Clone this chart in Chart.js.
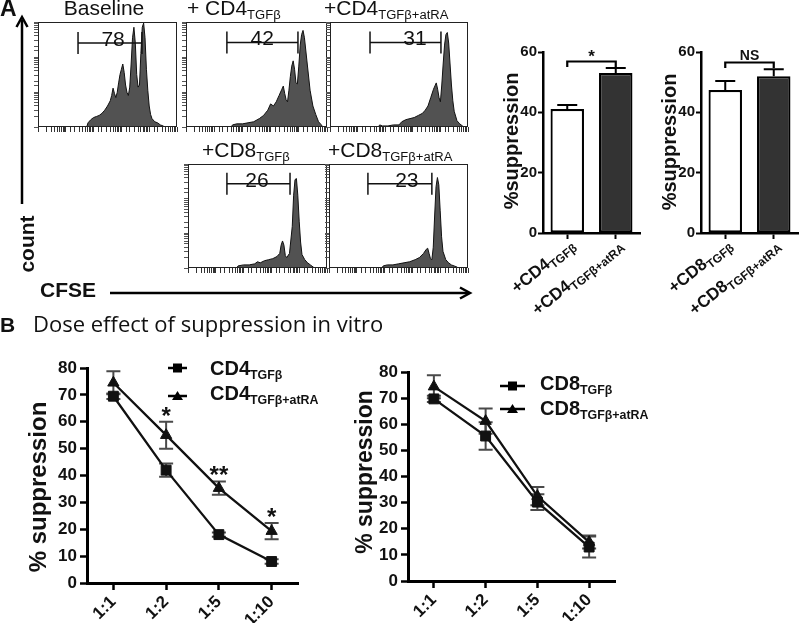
<!DOCTYPE html>
<html>
<head>
<meta charset="utf-8">
<script src="https://cdn.jsdelivr.net/npm/chart.js@4.4.1/dist/chart.umd.min.js"></script>
<style>
html, body { margin: 0; padding: 0; background: #fff; }
body { width: 800px; height: 626px; position: relative; overflow: hidden; font-family: "Liberation Sans", Arial, sans-serif; color: #111; }
canvas { position: absolute; }
.t { position: absolute; white-space: nowrap; line-height: 1; }
.b { font-weight: bold; }
.sb { font-size: 0.62em; position: relative; top: 0.3em; }
.rot { position: absolute; white-space: nowrap; line-height: 1; font-weight: bold; transform: translate(-50%, -50%) rotate(-90deg); }
.xl { position: absolute; width: 0; height: 0; }
.xl > span { position: absolute; left: 0; top: 0; white-space: nowrap; line-height: 1; font-weight: bold; font-size: 17px; transform-origin: 0 0; transform: rotate(-39deg) translate(-100%, -50%); }
.xl .sb { font-size: 12px; top: 0.3em; }
</style>
</head>
<body>

<canvas id="hBase"></canvas>
<canvas id="hCd4"></canvas>
<canvas id="hCd4Ra"></canvas>
<canvas id="hCd8"></canvas>
<canvas id="hCd8Ra"></canvas>
<canvas id="barCd4"></canvas>
<canvas id="barCd8"></canvas>
<canvas id="doseCd4"></canvas>
<canvas id="doseCd8"></canvas>

<svg width="800" height="626" style="position:absolute;left:0;top:0;pointer-events:none">
  <g stroke="#000" stroke-width="2.5" fill="none">
    <line x1="22" y1="204" x2="22" y2="20"/>
    <path d="M16.5 27 L22 17 L27.5 27"/>
    <line x1="110" y1="293" x2="468" y2="293"/>
    <path d="M460 287.5 L470 293 L460 298.5"/>
    <line x1="168" y1="368" x2="187" y2="368"/>
    <line x1="168" y1="396" x2="187" y2="396"/>
    <line x1="500" y1="386" x2="525" y2="386"/>
    <line x1="500" y1="409" x2="525" y2="409"/>
  </g>
  <rect x="173" y="363.5" width="9" height="9" fill="#000"/>
  <path d="M177.5 391 L172 400 L183 400 Z" fill="#000"/>
  <rect x="508" y="381.5" width="9" height="9" fill="#000"/>
  <path d="M512.5 404 L507 413 L518 413 Z" fill="#000"/>
</svg>

<div class="t b" style="left:0;top:-3px;font-size:23px">A</div>
<div class="t" style="left:104px;top:-3px;font-size:21px;transform:translateX(-50%)">Baseline</div>
<div class="t" style="left:187px;top:-3px;font-size:21px">+ CD4<span class="sb">TGFβ</span></div>
<div class="t" style="left:324px;top:-3px;font-size:21px">+CD4<span class="sb">TGFβ+atRA</span></div>
<div class="t" style="left:202px;top:139px;font-size:21px">+CD8<span class="sb">TGFβ</span></div>
<div class="t" style="left:328px;top:139px;font-size:21px">+CD8<span class="sb">TGFβ+atRA</span></div>
<div class="rot" style="left:26px;top:244px;font-size:21px">count</div>
<div class="t b" style="left:40px;top:279px;font-size:21px">CFSE</div>

<div class="rot" style="left:511px;top:141px;font-size:20px">%suppression</div>
<div class="rot" style="left:669px;top:142px;font-size:20px">%suppression</div>
<div class="xl" style="left:572px;top:242px"><span>+CD4<span class="sb">TGFβ</span></span></div>
<div class="xl" style="left:620px;top:242px"><span>+CD4<span class="sb">TGFβ+atRA</span></span></div>
<div class="xl" style="left:729px;top:242px"><span>+CD8<span class="sb">TGFβ</span></span></div>
<div class="xl" style="left:777px;top:242px"><span>+CD8<span class="sb">TGFβ+atRA</span></span></div>

<div class="t b" style="left:0;top:314px;font-size:21px">B</div>
<div class="t" style="left:33px;top:312px;font-size:22px;font-family:'Open Sans',sans-serif">Dose effect of suppression in vitro</div>
<div class="rot" style="left:38px;top:487px;font-size:24px">% suppression</div>
<div class="rot" style="left:364px;top:472px;font-size:23px">% suppression</div>
<div class="t b" style="left:210px;top:358px;font-size:20px">CD4<span class="sb">TGFβ</span></div>
<div class="t b" style="left:210px;top:383px;font-size:20px">CD4<span class="sb">TGFβ+atRA</span></div>
<div class="t b" style="left:540px;top:373px;font-size:20px">CD8<span class="sb">TGFβ</span></div>
<div class="t b" style="left:540px;top:398px;font-size:20px">CD8<span class="sb">TGFβ+atRA</span></div>

<script>
// ---- data ----
// CFSE histograms: [channel position 0-100, relative count 0-100]
const baselineHist = [[35,0],[36,4],[38,7],[40,9],[42,10],[44,11],[46,13],[48,16],[50,20],[52,25],[53,30],[54,37],[55,32],[56,28],[57,33],[58,42],[59,50],[60,55],[61,60],[62,52],[63,40],[64,33],[65,30],[66,38],[67,60],[68,85],[69,95],[70,80],[71,50],[72,38],[73,40],[74,70],[75,95],[76,99],[77,85],[78,55],[79,35],[80,20],[81,12],[82,8],[84,5],[86,4],[88,2],[90,1],[91,0]];
const cd4TgfHist = [[32,0],[33,2],[36,3],[40,3],[44,4],[48,5],[52,8],[55,11],[58,16],[60,22],[62,20],[64,24],[66,30],[68,36],[69,39],[70,32],[71,26],[72,24],[73,35],[74,48],[75,58],[76,63],[77,55],[78,42],[79,41],[80,58],[81,78],[82,88],[83,92],[84,85],[86,60],[88,35],[90,20],[92,12],[94,5],[96,2],[97,0]];
const cd4RaHist = [[35,0],[36,2],[38,1],[42,1],[46,2],[50,2],[52,5],[55,7],[58,8],[61,9],[64,11],[67,13],[69,16],[71,20],[73,28],[75,36],[77,42],[78,36],[79,28],[80,24],[81,40],[82,60],[83,78],[84,88],[85,90],[86,80],[87,60],[88,40],[89,25],[90,15],[92,6],[94,3],[96,1],[97,0]];
const cd8TgfHist = [[35,0],[36,2],[40,3],[44,3],[48,4],[50,6],[52,5],[55,7],[58,8],[61,9],[64,11],[66,14],[67,22],[68,26],[69,22],[70,12],[71,10],[73,14],[75,40],[76,70],[77,85],[78,86],[79,70],[80,45],[81,25],[82,13],[84,8],[86,5],[88,3],[90,1],[91,0]];
const cd8RaHist = [[38,0],[39,2],[42,3],[46,3],[50,4],[54,5],[58,6],[62,8],[65,10],[68,14],[70,18],[71,19],[72,14],[73,9],[74,8],[75,20],[76,50],[77,78],[78,87],[79,80],[80,55],[81,30],[82,16],[84,8],[86,5],[88,3],[90,2],[92,1],[93,0]];
const gateLo = [28.8, 29, 29, 28, 28];
const gateHi = [74.8, 79.4, 80.4, 73.4, 74];
const gateLevel = [80, 80.5, 80.5, 81, 81];
const gatePct = [78, 42, 31, 26, 23];
const gateLabelX = [54, 54, 61.6, 49.6, 56];

// bar charts (% suppression)
const barCd4Labels = ['+CD4 TGFβ', '+CD4 TGFβ+atRA'];
const barCd4Vals = [41.1, 53];
const barCd4Err = [1.3, 1.7];
const barCd8Labels = ['+CD8 TGFβ', '+CD8 TGFβ+atRA'];
const barCd8Vals = [47.4, 52];
const barCd8Err = [3, 2.3];
const barSig = ['*', 'NS'];
const barSigLevel = [57, 56.7];

// dose response
const ratios = ['1:1', '1:2', '1:5', '1:10'];
const cd4Tgf = [69.5, 42, 18, 8];
const cd4TgfErr = [1, 2.5, 0.8, 0.8];
const cd4Ra = [74.5, 55, 35.3, 19.3];
const cd4RaErr = [4.3, 5, 2.5, 3];
const cd4Stars = ['', '*', '**', '*'];
const cd8Tgf = [69.7, 55.5, 30.2, 13];
const cd8TgfErr = [1.2, 5.3, 3, 4];
const cd8Ra = [74.4, 61.2, 32.5, 14.9];
const cd8RaErr = [4.4, 4.8, 3.5, 2.5];

Chart.defaults.font.family = '"Liberation Sans", Arial, sans-serif';
Chart.defaults.color = '#111';

// place a canvas so that its chart area lands on the given box
function place(id, area, m) {
    const c = document.getElementById(id);
    const w = area.R - area.L + m.l + m.r;
    const h = area.B - area.T + m.t + m.b;
    c.width = w; c.height = h;
    c.style.left = (area.L - m.l) + 'px';
    c.style.top = (area.T - m.t) + 'px';
    c.style.width = w + 'px';
    c.style.height = h + 'px';
    return c;
}
const fixW = w => s => { s.width = w; s.paddingTop = 0; s.paddingBottom = 0; };
const fixH = h => s => { s.height = h; s.paddingLeft = 0; s.paddingRight = 0; };

// plugins
const flowBox = {
    id: 'flowBox',
    beforeDatasetsDraw(chart, args, o) {
        const ctx = chart.ctx;
        ctx.save();
        ctx.font = '21px "Liberation Sans", Arial';
        ctx.fillStyle = '#111';
        ctx.textAlign = 'center';
        ctx.fillText(String(o.pct), chart.scales.x.getPixelForValue(o.labelX), chart.scales.y.getPixelForValue(o.level) + 3);
        ctx.restore();
    },
    afterDraw(chart) {
        const { ctx, chartArea: a } = chart;
        ctx.save();
        ctx.strokeStyle = '#222';
        ctx.lineWidth = 1;
        ctx.strokeRect(a.left + 0.5, a.top + 0.5, a.right - a.left - 1, a.bottom - a.top - 1);
        ctx.restore();
    }
};

function drawErr(chart, o) {
    const ctx = chart.ctx, ys = chart.scales.y;
    ctx.save();
    ctx.strokeStyle = o.color;
    ctx.lineWidth = o.width;
    chart.data.datasets.forEach((ds, i) => {
        if (!ds.err) return;
        chart.getDatasetMeta(i).data.forEach((el, j) => {
            const top = ys.getPixelForValue(ds.data[j] + ds.err[j]);
            const bot = o.upOnly ? el.y : ys.getPixelForValue(ds.data[j] - ds.err[j]);
            ctx.beginPath();
            ctx.moveTo(el.x, bot); ctx.lineTo(el.x, top);
            ctx.moveTo(el.x - o.cap, top); ctx.lineTo(el.x + o.cap, top);
            if (!o.upOnly) { ctx.moveTo(el.x - o.cap, bot); ctx.lineTo(el.x + o.cap, bot); }
            ctx.stroke();
        });
    });
    ctx.restore();
}
const errBars = {
    id: 'errBars',
    beforeDatasetsDraw(chart, args, o) { if (!o.after) drawErr(chart, o); },
    afterDatasetsDraw(chart, args, o) { if (o.after) drawErr(chart, o); }
};

const sigBracket = {
    id: 'sigBracket',
    afterDatasetsDraw(chart, args, o) {
        const ctx = chart.ctx;
        const m = chart.getDatasetMeta(0).data;
        const y = Math.round(chart.scales.y.getPixelForValue(o.level)) + 0.5;
        ctx.save();
        ctx.strokeStyle = '#000';
        ctx.lineWidth = 2.2;
        ctx.beginPath();
        ctx.moveTo(m[0].x, y + 5.5); ctx.lineTo(m[0].x, y);
        ctx.lineTo(m[1].x, y); ctx.lineTo(m[1].x, y + 5.5);
        ctx.stroke();
        ctx.font = 'bold ' + o.size + 'px "Liberation Sans", Arial';
        ctx.fillStyle = '#111';
        ctx.textAlign = 'center';
        ctx.fillText(o.text, (m[0].x + m[1].x) / 2, y + o.dy);
        ctx.restore();
    }
};

const starMarks = {
    id: 'starMarks',
    afterDatasetsDraw(chart, args, o) {
        if (!o.labels) return;
        const ctx = chart.ctx, ds = chart.data.datasets[o.dataset];
        const pts = chart.getDatasetMeta(o.dataset).data;
        ctx.save();
        ctx.font = 'bold 24px "Liberation Sans", Arial';
        ctx.fillStyle = '#111';
        ctx.textAlign = 'center';
        o.labels.forEach((s, j) => {
            if (!s) return;
            ctx.fillText(s, pts[j].x, chart.scales.y.getPixelForValue(ds.data[j] + ds.err[j]) + 2);
        });
        ctx.restore();
    }
};

// CFSE histograms
function flowHist(id, area, hist, k) {
    const c = place(id, area, { l: 7, t: 1, r: 1, b: 7 });
    return new Chart(c, {
        type: 'line',
        data: {
            datasets: [
                {
                    data: [{ x: gateLo[k], y: gateLevel[k] }, { x: gateHi[k], y: gateLevel[k] }],
                    borderColor: '#111', borderWidth: 1.3, fill: false,
                    pointStyle: 'line', rotation: 90, pointRadius: 11,
                    pointBorderColor: '#111', pointBorderWidth: 1.5
                },
                {
                    data: hist.map(([x, y]) => ({ x, y })),
                    borderColor: '#111', borderWidth: 1, backgroundColor: '#525252',
                    fill: 'origin', pointRadius: 0, tension: 0
                }
            ]
        },
        options: {
            responsive: false, animation: false,
            layout: { autoPadding: false, padding: { left: 1, top: 1, right: 1, bottom: 1 } },
            plugins: {
                legend: { display: false }, tooltip: { enabled: false },
                flowBox: { pct: gatePct[k], labelX: gateLabelX[k], level: gateLevel[k] }
            },
            scales: {
                x: { type: 'linear', min: 0, max: 100, display: false },
                y: { type: 'linear', min: 0, max: 100, display: false },
                xt: {
                    type: 'logarithmic', position: 'bottom', min: 1, max: 100000,
                    ticks: { display: false },
                    grid: { drawOnChartArea: false, tickLength: 5, tickColor: '#333' },
                    border: { display: false }, afterFit: fixH(6)
                },
                yt: {
                    type: 'logarithmic', position: 'left', min: 1, max: 1000,
                    ticks: { display: false },
                    grid: { drawOnChartArea: false, tickLength: 4, tickColor: '#555' },
                    border: { display: false }, afterFit: fixW(6)
                }
            }
        },
        plugins: [flowBox]
    });
}

flowHist('hBase', { L: 38, T: 22, R: 177, B: 127 }, baselineHist, 0);
flowHist('hCd4', { L: 186, T: 22, R: 327, B: 127 }, cd4TgfHist, 1);
flowHist('hCd4Ra', { L: 330, T: 22, R: 468, B: 127 }, cd4RaHist, 2);
flowHist('hCd8', { L: 188, T: 164, R: 327, B: 268 }, cd8TgfHist, 3);
flowHist('hCd8Ra', { L: 329, T: 164, R: 468, B: 268 }, cd8RaHist, 4);

// bar charts
function barChart(id, area, labels, vals, errs, k) {
    const c = place(id, area, { l: 38, t: 16, r: 2, b: 10 });
    return new Chart(c, {
        type: 'bar',
        data: {
            labels: labels,
            datasets: [{
                data: vals, err: errs,
                backgroundColor: ['#ffffff', '#333333'],
                borderColor: '#000', borderWidth: 2.2, borderSkipped: false,
                barPercentage: 0.69, categoryPercentage: 1
            }]
        },
        options: {
            responsive: false, animation: false,
            layout: { autoPadding: false, padding: { left: 2, top: 16, right: 2, bottom: 2 } },
            plugins: {
                legend: { display: false }, tooltip: { enabled: false },
                errBars: { after: true, upOnly: true, color: '#000', width: 2, cap: 10 },
                sigBracket: { level: barSigLevel[k], text: barSig[k], size: k === 0 ? 17 : 14, dy: k === 0 ? 0 : -2.5 }
            },
            scales: {
                x: {
                    offset: true, ticks: { display: false },
                    grid: { drawOnChartArea: false, offset: false, tickLength: 6, tickWidth: 2, tickColor: '#000' },
                    border: { color: '#000', width: 2.5 }, afterFit: fixH(8)
                },
                y: {
                    min: 0, max: 60,
                    ticks: { stepSize: 20, padding: 1, font: { weight: 'bold', size: 15 } },
                    grid: { drawOnChartArea: false, tickLength: 5, tickWidth: 2, tickColor: '#000' },
                    border: { color: '#000', width: 2.5 }, afterFit: fixW(36)
                }
            }
        },
        plugins: [errBars, sigBracket]
    });
}

barChart('barCd4', { L: 543, T: 52, R: 640, B: 233 }, barCd4Labels, barCd4Vals, barCd4Err, 0);
barChart('barCd8', { L: 701, T: 52, R: 798, B: 233 }, barCd8Labels, barCd8Vals, barCd8Err, 1);

// dose response line charts
function doseChart(id, area, names, a, aErr, b, bErr, stars) {
    const c = place(id, area, { l: 48, t: 12, r: 6, b: 42 });
    const line = {
        borderColor: '#111', borderWidth: 2.3, fill: false, tension: 0,
        pointBackgroundColor: '#111', pointBorderColor: '#111', pointBorderWidth: 1
    };
    return new Chart(c, {
        type: 'line',
        data: {
            labels: ratios,
            datasets: [
                Object.assign({ label: names[0], data: a, err: aErr, pointStyle: 'rect', pointRadius: 7 }, line),
                Object.assign({ label: names[1], data: b, err: bErr, pointStyle: 'triangle', pointRadius: 6.5 }, line)
            ]
        },
        options: {
            responsive: false, animation: false,
            layout: { autoPadding: false, padding: { left: 2, top: 12, right: 6, bottom: 2 } },
            plugins: {
                legend: { display: false }, tooltip: { enabled: false },
                errBars: { after: false, color: '#4a4a4a', width: 2, cap: 7 },
                starMarks: { dataset: 1, labels: stars }
            },
            scales: {
                x: {
                    offset: true,
                    ticks: { minRotation: 45, maxRotation: 45, padding: 2, font: { weight: 'bold', size: 17 } },
                    grid: { drawOnChartArea: false, offset: false, tickLength: 7, tickWidth: 2.5, tickColor: '#000' },
                    border: { color: '#000', width: 3 }, afterFit: fixH(40)
                },
                y: {
                    min: 0, max: 80,
                    ticks: { stepSize: 10, padding: 3, font: { weight: 'bold', size: 17 } },
                    grid: { drawOnChartArea: false, tickLength: 7, tickWidth: 2.5, tickColor: '#000' },
                    border: { color: '#000', width: 3 }, afterFit: fixW(46)
                }
            }
        },
        plugins: [errBars, starMarks]
    });
}

doseChart('doseCd4', { L: 87, T: 368, R: 298, B: 583 }, ['CD4 TGFβ', 'CD4 TGFβ+atRA'], cd4Tgf, cd4TgfErr, cd4Ra, cd4RaErr, cd4Stars);
doseChart('doseCd8', { L: 408, T: 372, R: 615, B: 581 }, ['CD8 TGFβ', 'CD8 TGFβ+atRA'], cd8Tgf, cd8TgfErr, cd8Ra, cd8RaErr, null);
</script>
</body>
</html>
